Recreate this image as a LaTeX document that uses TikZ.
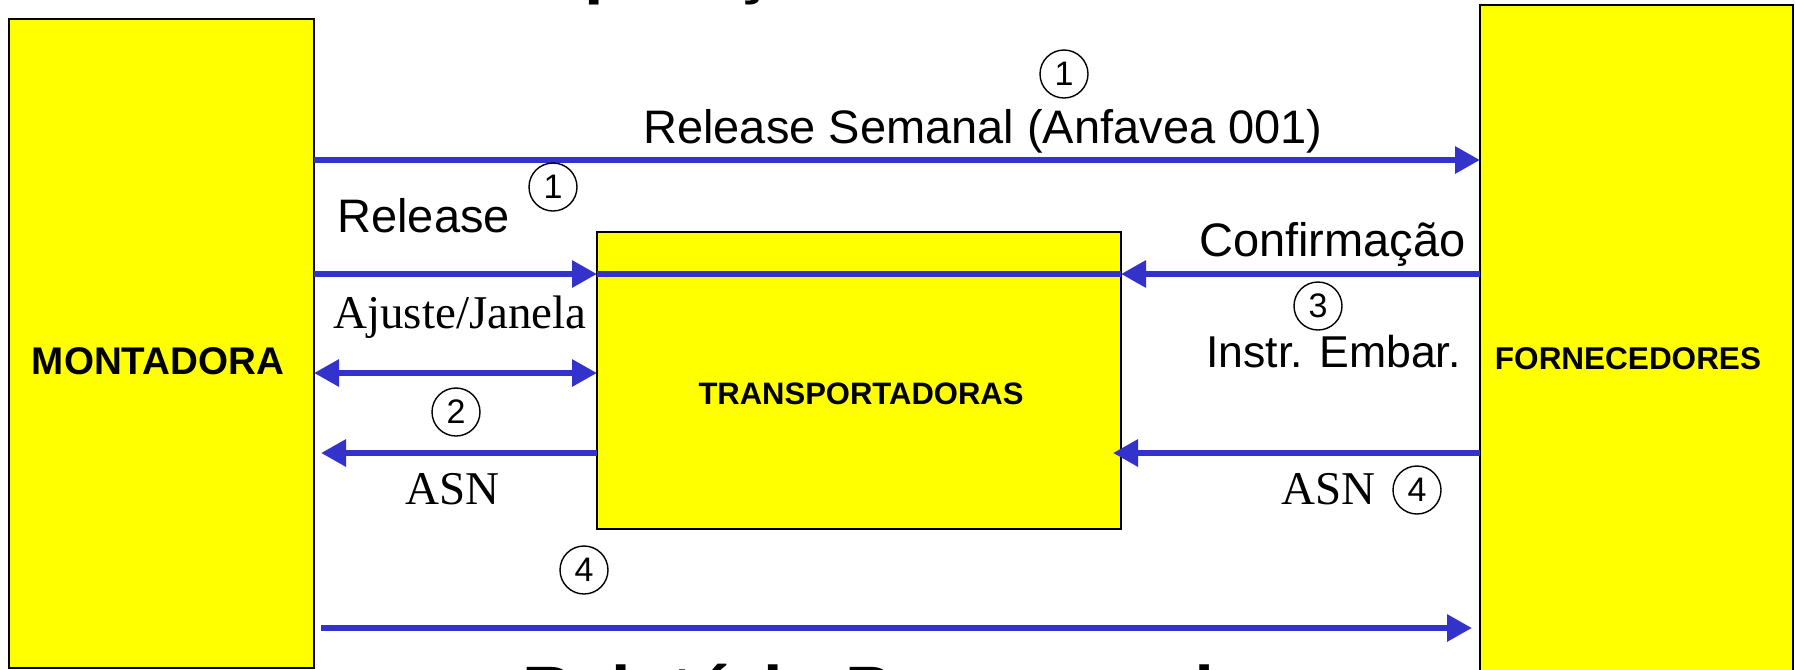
\documentclass[tikz,border=0pt]{standalone}
\usepackage{fontspec}
\setmainfont{Liberation Sans}
\newfontfamily\timesf{Liberation Serif}
\usetikzlibrary{arrows.meta}
\definecolor{arrowblue}{HTML}{3333CC}
\definecolor{boxyellow}{HTML}{FFFF00}
\begin{document}
\begin{tikzpicture}[x=0.5pt,y=-0.5pt,
  box/.style={draw=black, line width=1.2pt, fill=boxyellow, inner sep=0pt, outer sep=0pt},
  flow/.style={draw=arrowblue, line width=3pt, -{Triangle[length=12.5pt,width=13pt]}},
  flowline/.style={draw=arrowblue, line width=3pt},
  twoway/.style={draw=arrowblue, line width=3pt, {Triangle[length=12.5pt,width=13pt]}-{Triangle[length=12.5pt,width=13pt]}},
  num/.style={circle, draw=black, line width=0.7pt, minimum size=24pt, inner sep=0pt, font=\fontsize{17}{17}\selectfont},
  lab/.style={font=\fontsize{23.5}{24}\selectfont, inner sep=0pt},
  labs/.style={font=\fontsize{22.3}{23}\selectfont, inner sep=0pt},
  tlab/.style={font=\timesf\fontsize{23.5}{24}\selectfont, inner sep=0pt},
  titleL/.style={font=\bfseries\fontsize{19.3}{20}\selectfont, inner sep=0pt},
  titleM/.style={font=\bfseries\fontsize{15.5}{16}\selectfont, inner sep=0pt},
  titleR/.style={font=\bfseries\fontsize{15.75}{16}\selectfont, inner sep=0pt},
  big/.style={font=\bfseries\fontsize{35}{36}\selectfont, inner sep=0pt}
]
\useasboundingbox (0,0) rectangle (1796,670);
\fill[white] (0,0) rectangle (1796,670);

% clipped titles
\node[big, anchor=base west] (toptitle) at (530,-10) {Operação};
\node[big, anchor=base west] (bottitle) at (522,715) {Relatório Programado};

% boxes
\node[box, minimum width=152.5pt, minimum height=324.5pt] (L) at (161.5,343.5) {};
\node[box, minimum width=262pt, minimum height=148.5pt] (M) at (859,380.5) {};
\node[box, minimum width=156.5pt, minimum height=347.5pt] (R) at (1636.5,352.5) {};

\node[titleL, anchor=base] (tL) at (158,374) {MONTADORA};
\node[titleM, anchor=base] (tM) at (861,404) {TRANSPORTADORAS};
\node[titleR, anchor=base] (tR) at (1628,369) {FORNECEDORES};

% free-end coordinates
\coordinate (a5) at (321,453);
\coordinate (a6) at (1113,453);
\coordinate (b1) at (321,628);
\coordinate (b2) at (1472,628);

% connectors
\draw[flow] (L.east |- 0,160) -- (R.west |- 0,160);
\draw[flow] (L.east |- 0,274) -- (M.west |- 0,274);
\draw[flowline] (M.west |- 0,274) -- (M.east |- 0,274);
\draw[flow] (R.west |- 0,274) -- (M.east |- 0,274);
\draw[twoway] (L.east |- 0,373) -- (M.west |- 0,373);
\draw[flow] (M.west |- a5) -- (a5);
\draw[flow] (R.west |- a6) -- (a6);
\draw[flow] (b1) -- (b2);

% labels
\node[lab, anchor=base] (l1) at (983,143) {Release Semanal (Anfavea 001)};
\node[lab, anchor=base west] (l2) at (337,232) {Release};
\node[lab, anchor=base east] (l3) at (1466,256) {Confirmação};
\node[labs, anchor=base east] (l4) at (1461,367) {Instr. Embar.};
\node[tlab, anchor=base west] (l5) at (333,328) {Ajuste/Janela};
\node[tlab, anchor=base west] (l6) at (405,504) {ASN};
\node[tlab, anchor=base west] (l7) at (1281,504) {ASN};

% numbers
\node[num] (n1a) at (1064,74) {1};
\node[num] (n1b) at (553,187) {1};
\node[num] (n3) at (1318,306) {3};
\node[num] (n2) at (456,412) {2};
\node[num] (n4a) at (1417,490) {4};
\node[num] (n4b) at (584,570) {4};
\end{tikzpicture}
\end{document}
